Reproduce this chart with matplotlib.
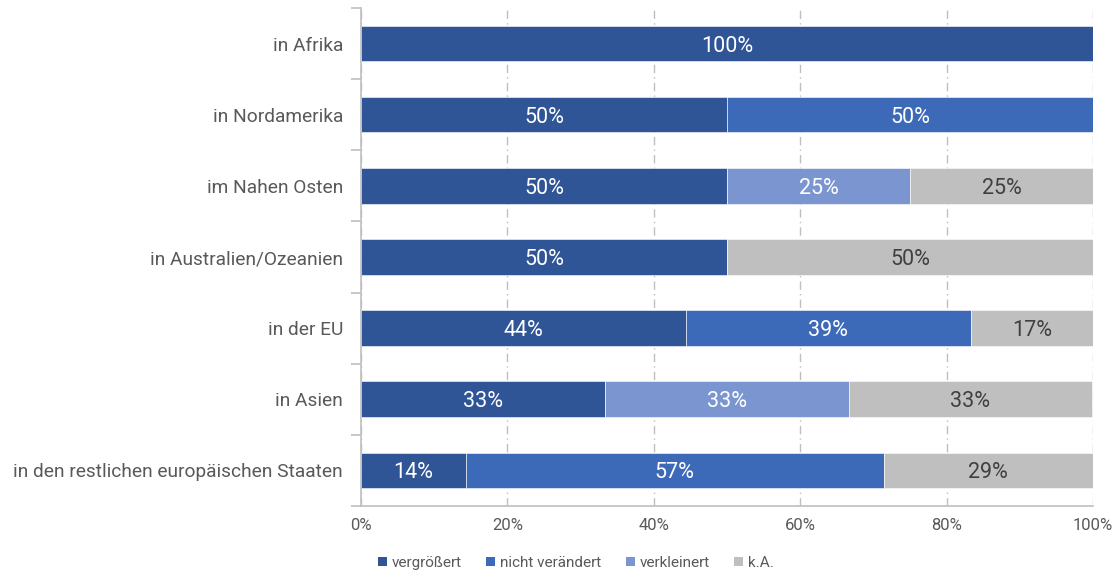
import matplotlib
matplotlib.use("Agg")
import matplotlib.pyplot as plt
import numpy as np
from matplotlib.patches import Patch

plt.rcParams["font.family"] = ["Roboto", "DejaVu Sans"]

regions = [
    "in Afrika",
    "in Nordamerika",
    "im Nahen Osten",
    "in Australien/Ozeanien",
    "in der EU",
    "in Asien",
    "in den restlichen europäischen Staaten",
]
series_names = ["vergrößert", "nicht verändert", "verkleinert", "k.A."]
vergroessert = [100, 50, 50, 50, 44.4, 33.3, 14.3]
nicht_veraendert = [0, 50, 0, 0, 38.9, 0, 57.1]
verkleinert = [0, 0, 25, 0, 0, 33.3, 0]
keine_angabe = [0, 0, 25, 50, 16.7, 33.3, 28.6]

colors = ["#2f5597", "#3d6ab8", "#7b95d1", "#bfbfbf"]
text_colors = ["white", "white", "white", "#404040"]

fig = plt.figure(figsize=[11.18, 5.74], dpi=100)
ax = fig.add_axes([361 / 1118, 1 - 506 / 574, 732 / 1118, 498 / 574])

y = np.arange(len(regions))
left = np.zeros(len(regions))
for vals, name, col, tcol in zip(
    [vergroessert, nicht_veraendert, verkleinert, keine_angabe], series_names, colors, text_colors
):
    vals = np.array(vals)
    ax.barh(y, vals, left=left, height=0.5, color=col, edgecolor="white", linewidth=0.4, label=name)
    for yi, l, v in zip(y, left, vals):
        if v > 0:
            ax.text(l + v / 2, yi, f"{v:.0f}%", ha="center", va="center_baseline",
                    color=tcol, fontsize=15.5)
    left += vals

ax.set_xlim(0, 100)
ax.set_ylim(len(regions) - 0.5, -0.5)
ax.set_xticks(np.arange(0, 101, 20))
ax.set_xticklabels([f"{t}%" for t in range(0, 101, 20)], color="#595959", fontsize=12)
ax.tick_params(axis="x", length=0, pad=9)
ax.set_yticks(y)
ax.set_yticklabels(regions, color="#595959", fontsize=13.8)
ax.tick_params(axis="y", which="major", length=0, pad=13)
ax.set_yticks(np.arange(-0.5, len(regions)), minor=True)
ax.tick_params(axis="y", which="minor", length=7, color="#bfbfbf", width=1.2)

ax.grid(axis="x", color="#bfbfbf", linestyle=(0, (6, 3, 1, 3)), linewidth=1)
ax.set_axisbelow(True)
for s in ["top", "right"]:
    ax.spines[s].set_visible(False)
for s in ["left", "bottom"]:
    ax.spines[s].set_color("#bfbfbf")
    ax.spines[s].set_linewidth(1.2)

handles = [Patch(facecolor=c, label=n) for c, n in zip(colors, series_names)]
leg = fig.legend(handles=handles, loc="center", bbox_to_anchor=(0.515, 1 - 563 / 574), ncol=4,
                 frameon=False, fontsize=11, handlelength=0.6, handleheight=0.6,
                 handletextpad=0.3, columnspacing=1.6)
for t in leg.get_texts():
    t.set_color("#595959")

fig.savefig("out.png", dpi=100)
